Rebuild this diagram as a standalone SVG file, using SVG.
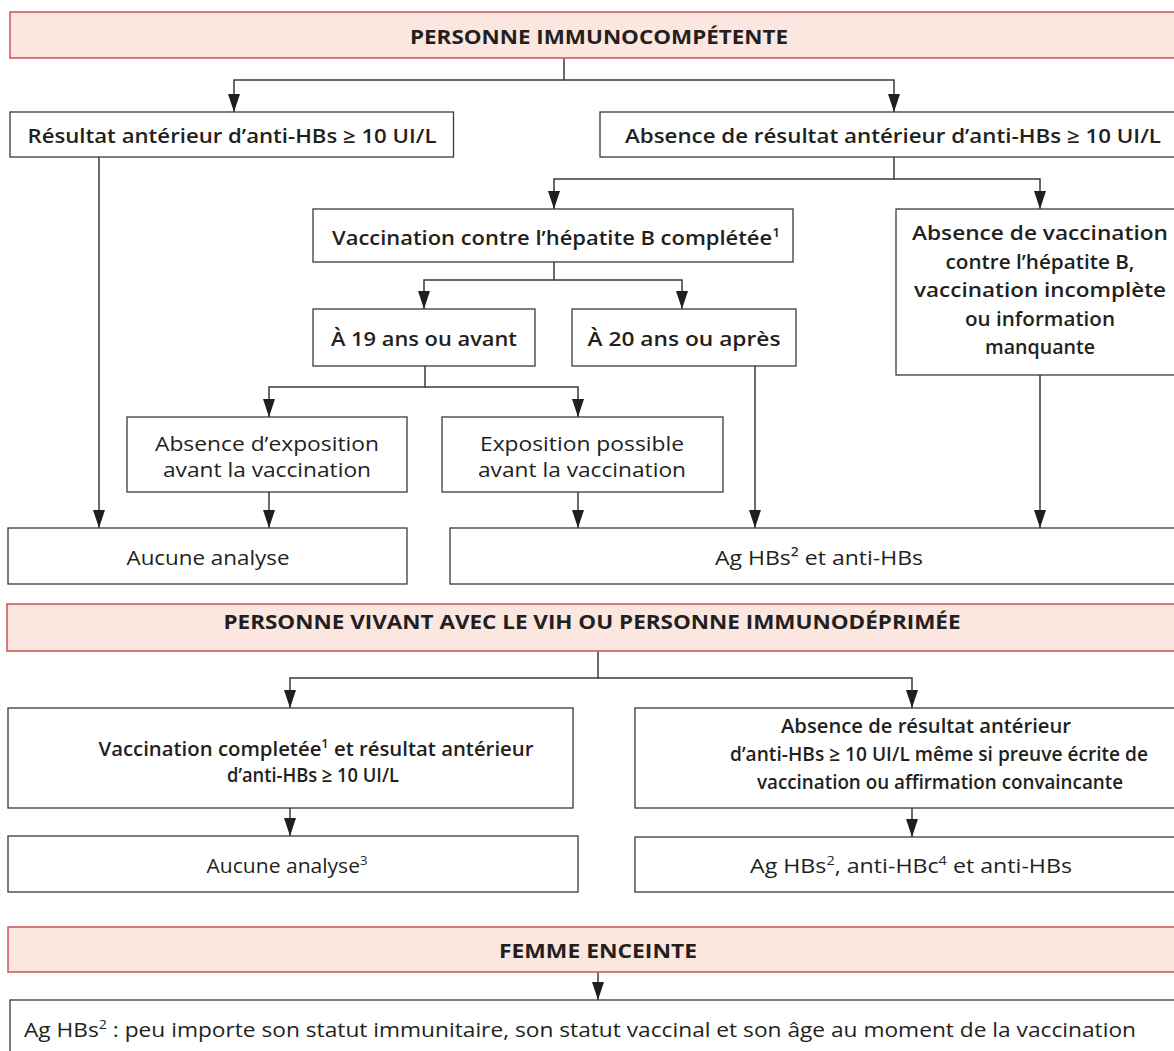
<svg xmlns="http://www.w3.org/2000/svg" width="1174" height="1051" viewBox="0 0 1174 1051">
<style>
.bg{fill:#ffffff}
.box{fill:#ffffff;stroke:#3a3a3a;stroke-width:1.3}
.hdr{fill:#fbe6e0;stroke:#d25a5e;stroke-width:1.6}
.c{fill:none;stroke:#3a3a3a;stroke-width:1.5;marker-end:url(#ah)}
text{font-family:"Open Sans","Liberation Sans",sans-serif;fill:#231f20;text-anchor:middle}
.h{font-size:19.5px;font-weight:700}
.m{font-size:20px;font-weight:600}
.r{font-size:20px;font-weight:400}
.sup{font-size:12.5px}
</style>
<defs>
<marker id="ah" markerUnits="userSpaceOnUse" markerWidth="18" markerHeight="12" refX="18" refY="6" orient="auto">
<path d="M0,0 L18,6 L0,12 z" fill="#1f1f1f"/>
</marker>
</defs>
<rect class="bg" x="0" y="0" width="1174" height="1051"/>

<g id="connectors">
<path class="c" d="M564,58 V80 H234 V112"/>
<path class="c" d="M564,80 H894 V112"/>
<path class="c" d="M99,157 V528"/>
<path class="c" d="M894,157 V179 H554 V209"/>
<path class="c" d="M894,179 H1040 V209"/>
<path class="c" d="M554,262 V280 H424 V309"/>
<path class="c" d="M554,280 H682 V309"/>
<path class="c" d="M425,366 V387 H269 V417"/>
<path class="c" d="M425,387 H578 V417"/>
<path class="c" d="M269,492 V528"/>
<path class="c" d="M578,492 V528"/>
<path class="c" d="M755,366 V528"/>
<path class="c" d="M1040,375 V528"/>
<path class="c" d="M598,651 V678 H290 V708"/>
<path class="c" d="M598,678 H912 V708"/>
<path class="c" d="M290,808 V836"/>
<path class="c" d="M912,808 V837"/>
<path class="c" d="M598,972 V1000"/>
</g>

<g id="header-immunocompetente">
<rect class="hdr" x="10" y="12" width="1180" height="46"/>
<text class="h" x="599" y="44" textLength="378" lengthAdjust="spacingAndGlyphs">PERSONNE IMMUNOCOMPÉTENTE</text>
</g>
<g id="resultat-anterieur">
<rect class="box" x="10" y="112" width="443.5" height="45"/>
<text class="m" x="232" y="143" textLength="409" lengthAdjust="spacingAndGlyphs">Résultat antérieur d’anti-HBs ≥ 10 UI/L</text>
</g>
<g id="absence-resultat">
<rect class="box" x="600" y="112" width="590" height="45"/>
<text class="m" x="893" y="143" textLength="536" lengthAdjust="spacingAndGlyphs">Absence de résultat antérieur d’anti-HBs ≥ 10 UI/L</text>
</g>
<g id="vaccination-completee">
<rect class="box" x="313" y="209" width="480" height="53"/>
<text class="m" x="556" y="245" textLength="448" lengthAdjust="spacingAndGlyphs">Vaccination contre l’hépatite B complétée<tspan class="sup" dy="-8">1</tspan></text>
</g>
<g id="absence-vaccination">
<rect class="box" x="896" y="209" width="294" height="166"/>
<text class="m" x="1040" y="240" textLength="256" lengthAdjust="spacingAndGlyphs">Absence de vaccination</text>
<text class="m" x="1040" y="268.5" textLength="189" lengthAdjust="spacingAndGlyphs">contre l’hépatite B,</text>
<text class="m" x="1040" y="297" textLength="252" lengthAdjust="spacingAndGlyphs">vaccination incomplète</text>
<text class="m" x="1040" y="326" textLength="150" lengthAdjust="spacingAndGlyphs">ou information</text>
<text class="m" x="1040" y="354" textLength="110" lengthAdjust="spacingAndGlyphs">manquante</text>
</g>
<g id="a19">
<rect class="box" x="313" y="309" width="222" height="57"/>
<text class="m" x="424" y="346" textLength="186" lengthAdjust="spacingAndGlyphs">À 19 ans ou avant</text>
</g>
<g id="a20">
<rect class="box" x="572" y="309" width="224" height="57"/>
<text class="m" x="684" y="346" textLength="193" lengthAdjust="spacingAndGlyphs">À 20 ans ou après</text>
</g>
<g id="absence-exposition">
<rect class="box" x="127" y="417" width="280" height="75"/>
<text class="r" x="267" y="451" textLength="224" lengthAdjust="spacingAndGlyphs">Absence d’exposition</text>
<text class="r" x="267" y="476.5" textLength="208" lengthAdjust="spacingAndGlyphs">avant la vaccination</text>
</g>
<g id="exposition-possible">
<rect class="box" x="442" y="417" width="281" height="75"/>
<text class="r" x="582" y="451" textLength="204" lengthAdjust="spacingAndGlyphs">Exposition possible</text>
<text class="r" x="582" y="476.5" textLength="208" lengthAdjust="spacingAndGlyphs">avant la vaccination</text>
</g>
<g id="aucune-analyse">
<rect class="box" x="8" y="528" width="399" height="56"/>
<text class="r" x="208" y="565" textLength="163" lengthAdjust="spacingAndGlyphs">Aucune analyse</text>
</g>
<g id="ag-hbs-anti-hbs">
<rect class="box" x="450" y="528" width="740" height="56"/>
<text class="r" x="819" y="565" textLength="208" lengthAdjust="spacingAndGlyphs">Ag HBs² et anti-HBs</text>
</g>

<g id="header-vih">
<rect class="hdr" x="7" y="604" width="1183" height="47"/>
<text class="h" x="592" y="629" textLength="737" lengthAdjust="spacingAndGlyphs">PERSONNE VIVANT AVEC LE VIH OU PERSONNE IMMUNODÉPRIMÉE</text>
</g>
<g id="vih-vaccination-completee">
<rect class="box" x="8" y="708" width="565" height="100"/>
<text class="m" x="316" y="756" textLength="435" lengthAdjust="spacingAndGlyphs">Vaccination completée<tspan class="sup" dy="-8">1</tspan><tspan dy="8"> et résultat antérieur</tspan></text>
<text class="m" x="313" y="781.5" textLength="172" lengthAdjust="spacingAndGlyphs">d’anti-HBs ≥ 10 UI/L</text>
</g>
<g id="vih-absence-resultat">
<rect class="box" x="635" y="708" width="555" height="100"/>
<text class="m" x="926" y="733" textLength="290" lengthAdjust="spacingAndGlyphs">Absence de résultat antérieur</text>
<text class="m" x="939" y="761" textLength="418" lengthAdjust="spacingAndGlyphs">d’anti-HBs ≥ 10 UI/L même si preuve écrite de</text>
<text class="m" x="940" y="789" textLength="366" lengthAdjust="spacingAndGlyphs">vaccination ou affirmation convaincante</text>
</g>
<g id="vih-aucune-analyse">
<rect class="box" x="8" y="836" width="570" height="56"/>
<text class="r" x="287" y="873" textLength="161" lengthAdjust="spacingAndGlyphs">Aucune analyse<tspan class="sup" dy="-8">3</tspan></text>
</g>
<g id="vih-ag-hbs">
<rect class="box" x="635" y="837" width="555" height="55"/>
<text class="r" x="911" y="873" textLength="322" lengthAdjust="spacingAndGlyphs">Ag HBs<tspan class="sup" dy="-8">2</tspan><tspan dy="8">, anti-HBc</tspan><tspan class="sup" dy="-8">4</tspan><tspan dy="8"> et anti-HBs</tspan></text>
</g>

<g id="header-femme-enceinte">
<rect class="hdr" x="8" y="927" width="1182" height="45"/>
<text class="h" x="598" y="958" textLength="198" lengthAdjust="spacingAndGlyphs">FEMME ENCEINTE</text>
</g>
<g id="femme-enceinte-ag-hbs">
<rect class="box" x="10" y="1000" width="1180" height="70"/>
<text class="r" x="24" y="1037" textLength="1112" lengthAdjust="spacingAndGlyphs" style="text-anchor:start">Ag HBs<tspan class="sup" dy="-8">2</tspan><tspan dy="8"> : peu importe son statut immunitaire, son statut vaccinal et son âge au moment de la vaccination</tspan></text>
</g>
</svg>
